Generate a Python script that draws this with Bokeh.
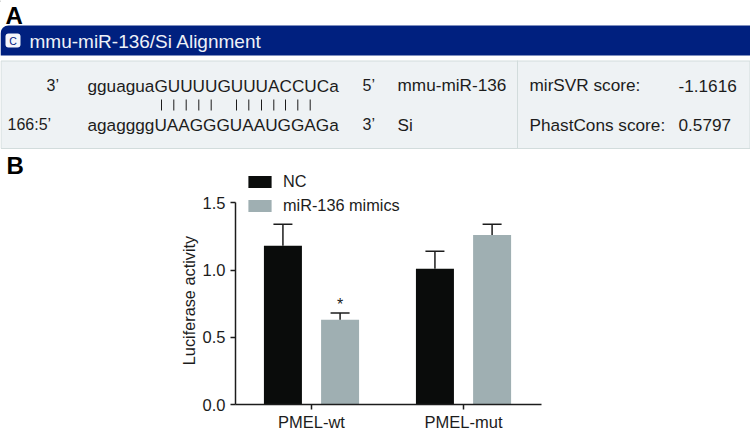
from bokeh.plotting import figure
from bokeh.layouts import column
from bokeh.models import Range1d, FixedTicker, Legend, LegendItem
from bokeh.core.properties import value
from bokeh.embed import file_html
from bokeh.resources import INLINE

# Panel B data
groups = ["PMEL-wt", "PMEL-mut"]
series_names = ["NC", "miR-136 mimics"]
nc_values = [1.18, 1.01]
nc_upper = [1.34, 1.14]
mimics_values = [0.63, 1.26]
mimics_upper = [0.68, 1.34]
y_ticks = [0.0, 0.5, 1.0, 1.5]

# Panel A content
header_title = "mmu-miR-136/Si Alignment"
mirna_seq = "gguaguaGUUUUGUUUACCUCa"
target_seq = "agaggggUAAGGGUAAUGGAGa"
mirna_name = "mmu-miR-136"
target_name = "Si"
mirsvr_score = "-1.1616"
phastcons_score = "0.5797"

FONT = "Liberation Sans"
BLUE = "#00207F"
INK = "#1c1c1c"
BLACK = "#0a0c0b"
GREY = "#9fafb2"

# ---------- Panel A and legend: drawn in page pixels ----------
a = figure(width=750, height=215, x_range=Range1d(0, 750), y_range=Range1d(215, 0),
           output_backend="svg", toolbar_location=None, min_border=0,
           outline_line_color=None, x_axis_type=None, y_axis_type=None, frame_align=False)
a.xgrid.visible = False
a.ygrid.visible = False

a.quad(left=[0], right=[750], top=[25], bottom=[55], fill_color=BLUE, line_color=None,
       border_radius=(8, 0, 0, 0))
a.quad(left=[0.5], right=[749.5], top=[60.5], bottom=[148], fill_color="#eef2f4", line_color="#d2dcdc", line_width=1)
a.segment(x0=[517], x1=[517], y0=[60], y1=[148], line_color="#d2dcdc", line_width=1)
a.quad(left=[5], right=[20], top=[33], bottom=[47], fill_color="#f4f6fa", line_color=None, border_radius=3)


def put(p, x, y, s, size=17.2, color=INK, style="normal", align="left"):
    p.text(x=[x], y=[y], text=[s], text_font=value(FONT), text_font_size=f"{size}px",
           text_color=color, text_font_style=style, text_align=align, text_baseline="middle")


put(a, 12.5, 40.5, "C", 10.5, BLUE, align="center")
put(a, 29, 41, header_title, 19, "#eef1f8")
put(a, 5, 15, "A", 24, "#000000", "bold")
put(a, 6, 165, "B", 24, "#000000", "bold")
put(a, 46, 85, "3\u2019", 16)
put(a, 7, 124, "166:5\u2019", 16)
put(a, 87, 85, mirna_seq)
put(a, 87, 124, target_seq)
put(a, 362, 85, "5\u2019", 16)
put(a, 362, 124, "3\u2019", 16)
put(a, 397, 84, mirna_name)
put(a, 397, 124, target_name)
put(a, 529, 84, "mirSVR score:")
put(a, 529, 124, "PhastCons score:")
put(a, 678, 85, mirsvr_score)
put(a, 678, 124, phastcons_score)

pair_x = [161, 173.3, 185.7, 198.3, 210.7, 236, 248.3, 261, 273.3, 285, 297.3, 309.7]
a.segment(x0=pair_x, x1=pair_x, y0=[99] * 12, y1=[110] * 12, line_color=INK, line_width=1)

# Legend keys come from off-canvas renderers in this figure, so the legend can sit above the plot frame
k1 = a.vbar(x=[-100], top=[1], width=1, fill_color=BLACK, line_color=None)
k2 = a.vbar(x=[-100], top=[1], width=1, fill_color=GREY, line_color=None)
leg = Legend(items=[LegendItem(label=series_names[0], renderers=[k1]),
                    LegendItem(label=series_names[1], renderers=[k2])],
             location=(245, 0), orientation="vertical", border_line_color=None,
             background_fill_alpha=0, glyph_width=29, glyph_height=15, padding=0, margin=0,
             spacing=5, label_standoff=9, label_text_font=FONT, label_text_font_size="16.3px",
             label_text_color=INK)
a.add_layout(leg, "center")

# ---------- Panel B: bar chart ----------
p = figure(width=750, height=245, x_range=Range1d(-0.5, 1.513), y_range=Range1d(0, 1.5465),
           output_backend="svg", toolbar_location=None, outline_line_color=None,
           min_border_left=235, min_border_right=209, min_border_top=8, min_border_bottom=27,
           frame_align=False, margin=(-27, 0, 0, 0), background_fill_alpha=0, border_fill_alpha=0)
p.xgrid.visible = False
p.ygrid.visible = False

off = 0.188
w = 0.25
xs = list(range(len(groups)))
nc_x = [i - off for i in xs]
mi_x = [i + off for i in xs]

p.vbar(x=nc_x, top=nc_values, width=w, fill_color=BLACK, line_color=None)
p.vbar(x=mi_x, top=mimics_values, width=w, fill_color=GREY, line_color=None)

for x, lo, hi in ((nc_x, nc_values, nc_upper), (mi_x, mimics_values, mimics_upper)):
    p.segment(x0=[v - 0.0625 for v in x], x1=[v + 0.0625 for v in x], y0=hi, y1=hi,
              line_color=INK, line_width=1.5)
    p.segment(x0=x, x1=x, y0=lo, y1=hi, line_color=INK, line_width=1.5)

p.text(x=[mi_x[0]], y=[mimics_upper[0]], text=["*"], text_font=value(FONT), text_font_size="16px",
       text_color=INK, text_align="center", text_baseline="bottom")

for ax in (p.xaxis[0], p.yaxis[0]):
    ax.axis_line_color = INK
    ax.axis_line_width = 1.5
    ax.major_tick_line_color = INK
    ax.major_tick_line_width = 1.5
    ax.major_tick_out = 5
    ax.major_tick_in = 0
    ax.minor_tick_line_color = None
    ax.major_label_text_font = FONT
    ax.major_label_text_font_size = "16.5px"
    ax.major_label_text_color = INK

p.xaxis[0].ticker = FixedTicker(ticks=xs)
p.xaxis[0].major_label_overrides = {i: g for i, g in enumerate(groups)}
p.xaxis[0].major_label_standoff = 3
p.yaxis[0].ticker = FixedTicker(ticks=y_ticks)
p.yaxis[0].bounds = (0, 1.5)
p.yaxis[0].major_label_overrides = {t: f"{t:.1f}" for t in y_ticks}
p.yaxis[0].axis_label = "Luciferase activity"
p.yaxis[0].axis_label_standoff = 2
p.yaxis[0].axis_label_text_font = FONT
p.yaxis[0].axis_label_text_font_style = "normal"
p.yaxis[0].axis_label_text_font_size = "16.3px"
p.yaxis[0].axis_label_text_color = INK

page = column(a, p, spacing=0)
open("out.html", "w").write(file_html(page, INLINE))
